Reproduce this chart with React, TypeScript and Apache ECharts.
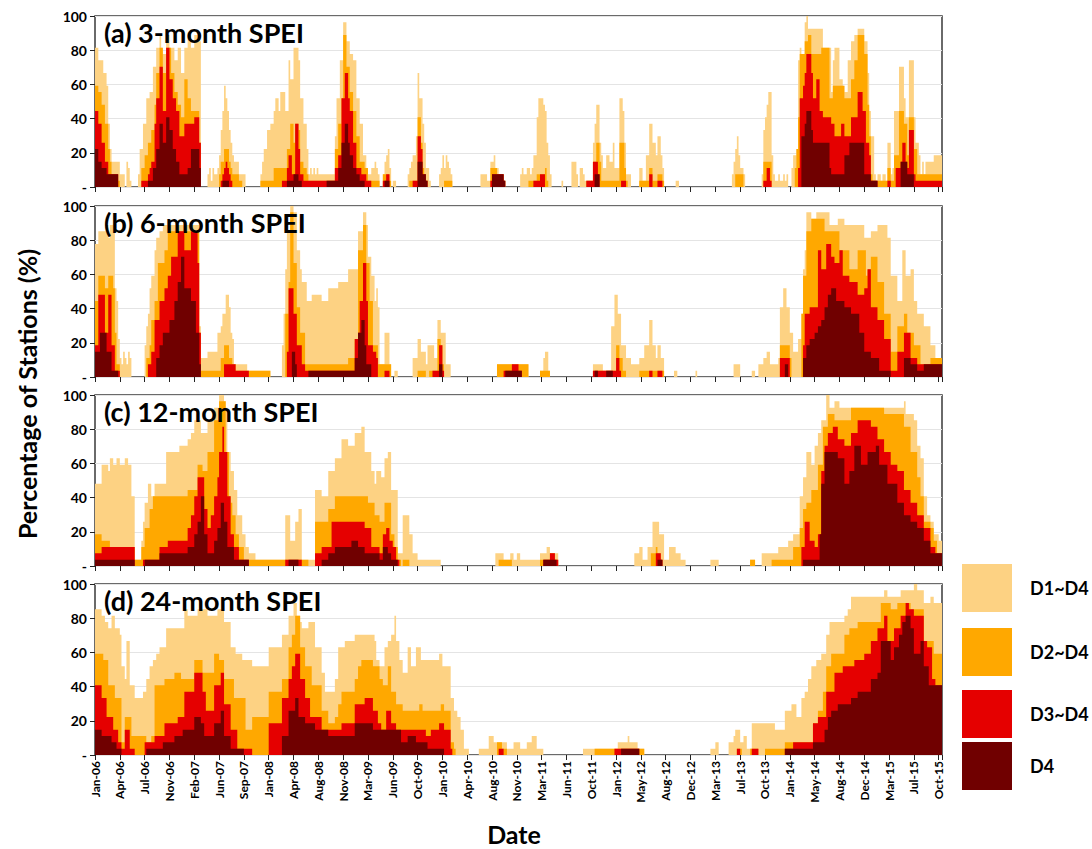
import React, { useEffect, useRef } from 'react';
import * as echarts from 'echarts';

const STATIONS = 27;
const WEEKS = 512;
const WEEKS_PER_TICK = 15;

const tickLabels = ['Jan-06','Apr-06','Jul-06','Nov-06','Feb-07','Jun-07','Sep-07','Jan-08','Apr-08','Aug-08','Nov-08','Mar-09','Jun-09','Oct-09','Jan-10','Apr-10','Aug-10','Nov-10','Mar-11','Jun-11','Oct-11','Jan-12','May-12','Aug-12','Dec-12','Mar-13','Jul-13','Oct-13','Jan-14','May-14','Aug-14','Dec-14','Mar-15','Jul-15','Oct-15'];
const panelTitles = ['(a) 3-month SPEI', '(b) 6-month SPEI', '(c) 12-month SPEI', '(d) 24-month SPEI'];
const classNames = ['D1~D4', 'D2~D4', 'D3~D4', 'D4'];
const classColors = ['#FDD283', '#FFA800', '#E50000', '#700000'];
const yTicks = [0, 20, 40, 60, 80, 100];

// Station counts (of 27) per week, written as "startWeek:count" change points.
// (a) 3-month SPEI
const a_D1 = "0:22 2:20 5:18 7:16 8:10 9:6 10:4 15:2 18:0 19:4 20:3 21:1 22:0 26:2 27:6 29:10 31:14 33:15 35:19 37:22 39:24 40:21 43:24 45:22 48:20 50:22 52:18 54:22 56:24 58:22 60:24 63:23 64:0 68:2 69:3 70:1 71:3 72:2 74:3 75:5 76:9 77:12 78:16 79:14 80:12 81:9 82:7 83:5 84:4 87:2 91:0 100:2 101:4 102:6 104:9 106:10 108:12 109:14 111:12 112:15 115:12 117:20 118:17 120:22 123:20 124:14 126:10 128:6 129:2 130:3 131:2 132:3 133:2 134:3 135:2 145:8 146:14 148:20 150:26 152:23 154:21 156:20 158:14 160:10 162:5 164:2 167:3 169:4 170:3 171:2 172:0 174:2 175:4 176:5 177:6 178:3 179:0 180:1 182:0 189:2 190:3 191:4 192:5 194:8 195:18 196:14 198:10 199:7 200:3 202:1 203:0 208:2 209:3 210:5 211:3 212:5 213:4 214:3 215:2 216:0 233:2 237:1 239:4 241:5 242:3 244:2 247:1 248:0 257:2 258:3 259:2 261:3 263:2 264:3 265:5 267:11 268:14 271:13 272:12 273:7 274:5 275:2 276:0 282:1 283:0 288:4 291:2 292:0 293:3 295:2 296:1 301:7 302:10 303:13 305:7 306:5 307:3 309:5 311:4 313:7 314:3 317:14 319:12 320:7 321:2 324:0 329:3 331:1 333:5 335:10 337:7 339:5 340:8 342:5 343:3 344:0 351:1 353:0 385:2 386:4 387:6 388:8 389:5 390:3 392:2 393:0 403:2 404:9 405:11 406:13 407:15 409:5 410:2 411:1 413:2 414:1 416:2 417:1 418:2 419:0 421:3 422:5 425:20 426:22 427:20 429:26 430:27 431:25 440:22 445:15 446:20 447:22 450:17 452:14 453:15 455:20 457:23 459:24 461:25 465:23 467:18 468:12 469:8 471:2 472:1 473:2 475:1 476:2 478:1 479:7 481:2 482:3 483:12 486:19 489:14 490:11 492:20 495:11 496:7 498:5 499:2 500:4 501:2 502:4 503:4 507:5";
const a_D2 = "0:16 2:15 4:13 6:10 8:6 9:4 10:2 14:1 15:0 28:3 30:5 32:7 34:9 36:13 37:18 39:22 41:18 44:22 46:18 48:15 50:13 52:11 54:17 56:14 58:12 63:6 64:0 75:2 76:4 78:6 81:4 82:3 83:2 87:1 89:0 100:1 108:3 116:6 118:10 120:7 122:9 124:4 126:3 128:2 129:1 145:6 147:10 149:14 150:24 152:19 154:15 156:12 158:8 160:4 163:3 165:1 172:0 174:2 178:1 179:0 190:1 195:11 197:7 198:3 199:1 201:0 211:1 216:0 239:3 243:1 248:0 262:1 267:2 272:3 273:1 274:0 297:1 301:3 303:7 305:4 306:1 317:7 320:3 321:1 322:0 329:1 335:3 337:1 340:2 343:1 344:0 387:2 392:0 404:4 409:0 423:3 424:6 425:11 426:21 429:23 431:24 433:21 439:22 444:14 446:16 453:14 457:17 459:20 461:24 465:21 467:13 468:8 469:2 470:1 479:3 481:1 483:5 486:12 489:10 491:5 492:11 495:6 497:2";
const a_D3 = "0:12 2:10 4:7 6:4 8:2 14:0 28:1 32:2 33:3 34:4 36:10 37:14 39:19 41:12 43:22 45:17 47:14 49:12 51:8 54:10 60:11 63:7 64:0 76:1 77:2 78:3 79:4 80:3 81:2 82:1 83:0 113:1 116:3 117:5 119:2 121:10 123:6 124:2 126:1 145:3 147:5 149:14 151:18 153:14 154:12 156:7 158:3 161:2 164:1 167:0 174:1 176:2 178:0 192:1 195:8 197:6 198:2 199:1 200:0 239:1 244:0 265:1 269:2 272:0 297:1 301:4 304:2 305:0 318:1 321:0 335:2 337:0 340:1 343:0 404:1 406:3 408:1 409:0 425:3 426:14 428:16 429:18 430:21 433:18 434:14 436:17 438:12 440:11 445:10 447:8 451:10 453:8 457:11 461:15 464:12 466:7 468:5 469:1 473:0 479:1 481:0 484:3 488:7 490:3 492:9 495:2 496:1";
const a_D4 = "0:6 2:4 4:3 7:2 14:0 32:1 35:3 37:6 39:10 41:7 43:11 45:9 47:6 49:4 51:2 56:3 58:6 63:3 64:0 77:1 81:0 116:1 120:2 123:1 125:0 140:1 147:3 149:7 151:10 153:7 154:5 156:3 158:2 160:1 163:0 175:1 178:0 195:4 198:2 200:1 201:0 240:2 247:1 248:0 302:2 305:0 427:8 429:10 430:12 433:9 434:7 444:3 445:2 453:5 456:7 465:2 469:1 473:0 487:4 491:2 495:0";

// (b) 6-month SPEI
const b_D1 = "0:21 2:23 7:24 8:22 9:24 11:23 12:14 13:12 14:6 15:3 16:2 17:4 18:3 19:2 20:4 21:3 22:0 30:5 31:8 32:10 33:14 34:16 36:20 37:22 39:23 41:24 63:8 64:3 68:4 74:7 76:8 77:10 79:13 81:11 82:7 83:6 84:2 92:1 106:0 113:5 114:10 115:17 116:23 118:27 120:26 122:20 124:17 125:15 128:12 131:13 137:12 141:14 147:15 153:17 159:23 162:26 164:24 165:19 167:16 169:12 170:14 171:11 172:2 174:0 175:7 178:2 179:0 181:1 183:0 192:3 195:6 197:4 200:2 201:5 205:3 207:9 209:7 212:2 215:0 243:2 254:1 258:0 269:1 271:3 272:4 274:1 275:0 301:2 307:1 312:8 314:13 316:10 318:5 321:3 324:2 329:3 332:5 335:9 337:5 339:3 340:5 342:3 344:0 350:1 352:0 363:1 364:0 386:2 390:0 397:1 399:0 401:2 404:3 406:4 408:2 413:3 414:11 416:14 418:11 420:7 422:4 425:6 428:17 429:20 430:26 433:25 436:26 444:24 449:25 453:24 465:22 469:23 473:24 479:22 481:16 485:12 488:20 490:16 493:17 495:12 497:10 501:8 505:5 508:3";
const b_D2 = "0:12 2:16 6:14 8:16 11:14 12:7 13:2 15:0 31:3 33:5 34:9 36:12 38:18 42:20 44:23 63:2 64:1 76:3 78:5 81:3 83:1 106:0 115:10 117:15 118:26 120:18 122:11 124:7 127:2 153:3 157:5 159:20 162:24 164:18 166:12 168:5 171:2 179:0 195:1 200:0 202:1 207:6 209:2 211:0 243:2 262:0 269:1 275:0 301:1 315:5 317:3 319:1 321:0 329:1 344:0 414:5 420:3 421:0 427:10 428:16 430:23 433:25 441:23 450:20 456:17 461:20 466:16 469:19 473:15 477:10 481:4 485:8 489:10 491:7 495:5 499:2 505:3";
const b_D3 = "0:5 2:13 6:7 8:13 10:5 12:1 15:0 32:2 34:4 36:9 39:12 42:14 44:16 46:19 50:23 54:20 58:23 62:18 63:7 64:0 78:2 85:1 93:0 116:4 117:14 120:10 122:5 125:2 127:1 157:6 160:12 162:18 164:12 165:5 168:4 170:3 171:0 175:1 178:0 204:1 208:5 210:1 211:0 247:1 252:2 256:1 258:0 301:1 315:3 317:1 318:0 335:1 337:0 340:1 343:0 414:3 420:0 428:5 429:10 432:11 437:20 439:17 442:21 445:19 447:18 450:20 452:16 456:15 461:13 465:14 467:17 469:11 473:9 477:6 481:1 485:4 489:7 493:3 497:2";
const b_D4 = "0:4 3:7 7:4 10:1 14:0 37:3 39:5 41:7 45:9 48:12 50:15 52:19 54:14 58:12 61:7 63:2 64:0 119:4 121:2 122:0 129:1 157:3 159:7 161:9 163:5 164:2 167:0 208:2 210:0 248:1 258:0 302:1 304:0 309:1 313:0 417:2 419:0 428:3 430:5 432:6 435:7 437:8 439:9 441:11 443:13 445:14 448:12 453:11 457:10 462:7 465:4 469:3 474:1 481:0 489:3 493:2 497:1 501:2";

// (c) 12-month SPEI
const c_D1 = "0:13 4:16 8:15 9:17 11:16 13:17 15:16 18:17 20:16 22:11 24:1 28:4 29:7 30:10 32:13 34:11 36:13 43:18 51:19 56:20 58:21 60:23 64:21 68:23 72:25 75:27 78:25 80:18 82:15 84:12 86:8 89:5 91:3 93:2 97:1 115:8 118:4 121:7 123:9 125:1 133:12 137:11 141:15 145:17 149:20 153:19 157:21 161:22 163:18 167:15 169:13 170:15 173:14 175:17 177:18 179:12 183:2 186:8 190:5 192:2 195:1 209:0 242:2 247:1 251:2 253:1 255:2 257:1 269:2 273:3 275:2 280:0 326:2 329:3 331:1 334:3 337:7 341:5 344:1 347:3 351:2 354:1 357:0 372:1 377:0 396:1 399:0 403:2 413:3 419:4 422:5 426:11 428:14 430:18 433:16 435:19 437:21 439:23 442:27 444:25 447:26 450:25 489:26 490:24 495:23 497:19 499:17 501:11 503:8 505:7 507:5 510:4";
const c_D2 = "0:5 4:4 9:3 23:1 28:3 30:6 33:9 35:11 56:12 62:16 65:15 68:18 72:23 75:26 79:18 81:10 83:8 85:5 87:3 90:1 129:0 133:7 141:9 145:11 165:10 169:8 172:7 175:10 179:5 181:3 183:1 185:0 186:1 190:0 244:1 252:0 269:1 280:0 336:2 339:3 340:1 343:0 396:1 399:0 409:1 422:3 426:6 428:9 430:10 433:12 437:16 440:22 443:24 447:23 457:25 477:24 489:22 493:18 497:14 499:11 501:7 505:6 507:4 509:2";
const c_D3 = "0:2 4:3 24:0 29:1 39:3 44:4 56:6 58:8 60:11 62:14 66:9 68:6 70:8 72:11 74:14 75:18 77:22 78:18 80:11 82:5 84:3 87:1 93:0 115:1 125:0 133:2 137:3 143:7 163:6 167:3 172:2 174:5 176:6 178:4 180:3 182:1 184:0 271:1 275:2 278:1 280:0 339:2 342:1 343:0 427:3 429:7 432:4 435:3 437:5 439:15 441:19 443:21 446:22 449:20 453:19 457:21 461:23 469:22 473:20 477:18 481:16 485:15 489:12 493:10 497:8 501:6 505:3 508:2";
const c_D4 = "0:1 24:0 30:1 39:2 56:3 60:5 62:7 64:11 66:5 68:2 72:4 74:6 76:10 78:7 80:3 84:1 93:0 117:1 123:0 137:1 141:2 145:3 155:4 159:3 163:2 172:1 174:3 177:2 179:1 183:0 271:1 279:0 340:1 343:0 428:1 438:5 439:13 441:18 449:17 453:13 456:15 459:19 463:16 467:18 472:19 474:16 479:13 485:10 489:8 493:7 497:6 501:4 505:2";

// (d) 24-month SPEI
const d_D1 = "0:23 4:22 6:21 8:20 10:22 12:20 15:19 16:14 18:12 19:18 21:11 24:9 29:10 31:12 33:14 35:15 37:16 39:17 43:20 54:23 56:22 62:23 68:22 74:23 78:21 82:17 85:16 89:15 95:14 105:17 113:19 117:22 120:24 122:21 125:20 129:21 133:17 137:13 139:10 145:12 147:17 151:18 157:19 169:18 170:15 172:14 175:17 177:18 179:19 181:22 182:18 184:15 186:13 189:17 191:14 194:17 197:15 208:16 210:14 215:9 217:7 219:6 221:4 223:1 226:0 232:1 238:3 241:2 249:1 253:2 257:1 261:2 264:3 267:1 271:0 295:1 316:2 322:3 323:2 328:1 332:0 372:1 375:2 377:0 383:2 386:3 387:4 390:2 392:3 394:1 397:5 411:4 417:7 421:8 424:6 427:9 429:10 431:12 433:14 436:15 439:16 442:19 444:21 453:22 455:23 457:25 477:26 479:25 487:26 495:27 497:26 501:24 505:25 507:24";
const d_D2 = "0:16 5:15 8:11 12:9 16:2 18:6 22:3 31:2 34:3 36:11 42:12 48:13 52:12 60:15 65:13 72:16 75:15 78:12 84:9 91:4 95:6 105:10 113:12 117:17 119:19 121:22 124:17 127:14 131:11 137:7 141:5 145:6 147:8 149:10 157:12 159:14 161:15 168:14 172:12 174:11 177:14 179:10 182:8 186:7 196:8 198:7 209:8 211:7 215:2 217:1 218:0 243:2 246:1 249:0 302:1 332:0 388:1 391:0 396:1 401:0 405:1 417:2 435:5 437:7 440:10 442:14 445:16 453:19 456:20 461:21 475:24 481:23 485:24 493:23 501:18 507:16";
const d_D3 = "0:11 4:9 7:6 11:4 14:2 16:1 18:4 21:1 24:0 30:2 36:3 42:5 50:6 54:10 60:13 65:10 67:7 72:11 76:13 78:8 82:4 86:1 95:0 105:5 113:9 117:12 119:14 121:16 124:12 127:9 130:6 137:4 149:5 157:8 163:9 168:7 171:5 173:4 176:7 179:5 182:4 200:3 203:4 208:5 211:4 215:1 216:0 244:1 247:0 314:1 318:0 388:1 390:0 397:1 401:0 422:2 434:5 437:6 442:10 447:13 452:14 459:15 465:16 469:18 473:20 477:22 479:18 483:20 487:22 490:24 492:23 495:22 501:18 503:17 506:12 508:11";
const d_D4 = "0:4 4:3 10:2 13:1 16:0 31:1 41:2 48:3 53:4 60:6 64:5 66:3 72:5 76:7 78:3 82:1 90:0 113:3 117:7 121:9 123:6 127:5 133:4 141:3 157:5 168:4 185:2 189:3 194:2 201:1 211:0 318:1 329:0 417:1 434:2 441:4 443:6 445:7 449:8 457:9 461:10 469:12 473:13 475:18 481:15 483:17 486:19 488:21 490:22 493:20 495:16 499:18 501:14 504:11";

const panels = [
  [a_D1, a_D2, a_D3, a_D4],
  [b_D1, b_D2, b_D3, b_D4],
  [c_D1, c_D2, c_D3, c_D4],
  [d_D1, d_D2, d_D3, d_D4],
];

function decode(s: string): number[] {
  const out = new Array(WEEKS).fill(0);
  const toks = s.trim().split(/\s+/).map((t) => t.split(':').map(Number));
  for (let i = 0; i < toks.length; i++) {
    const start = toks[i][0];
    const end = i + 1 < toks.length ? toks[i + 1][0] : WEEKS;
    for (let k = start; k < end && k < WEEKS; k++) out[k] = toks[i][1];
  }
  return out;
}

const FONT = 'Lato, "Open Sans", "Noto Sans", sans-serif';
const GRID_LEFT = 95;
const GRID_WIDTH = 847;
const GRID_HEIGHT = 171;
const GRID_TOPS = [16, 206, 395, 584];

function buildOption() {
  const grid: any[] = [];
  const xAxis: any[] = [];
  const yAxis: any[] = [];
  const series: any[] = [];
  const graphic: any[] = [];

  panels.forEach((p, gi) => {
    // nested classes: D4 <= D3~D4 <= D2~D4 <= D1~D4
    const raw = p.map(decode);
    const nested: number[][] = [raw[3]];
    for (let k = 2; k >= 0; k--) {
      nested.unshift(raw[k].map((v, i) => Math.max(v, nested[0][i])));
    }
    grid.push({
      left: GRID_LEFT, width: GRID_WIDTH, top: GRID_TOPS[gi], height: GRID_HEIGHT,
      show: true, borderColor: '#3a3a3a', borderWidth: 1.5, backgroundColor: 'transparent',
    });
    const isBottom = gi === panels.length - 1;
    xAxis.push({
      type: 'value', gridIndex: gi, min: 0, max: WEEKS, interval: WEEKS_PER_TICK,
      axisLine: { show: false },
      axisTick: { show: true, length: 5, inside: false, lineStyle: { color: '#222', width: 1 } },
      splitLine: { show: false },
      axisLabel: {
        show: isBottom, rotate: 90, fontSize: 12, fontWeight: 'bold', color: '#000', fontFamily: FONT, margin: 6,
        formatter: (v: number) => (v % WEEKS_PER_TICK === 0 && tickLabels[v / WEEKS_PER_TICK]) || '',
      },
    });
    yAxis.push({
      type: 'value', gridIndex: gi, min: 0, max: 100, interval: 20,
      axisLine: { show: false },
      axisTick: { show: true, length: 5, lineStyle: { color: '#222' } },
      splitLine: { show: true, lineStyle: { color: '#e4e4e4', width: 1 } },
      axisLabel: {
        fontSize: 14, fontWeight: 'bold', color: '#000', fontFamily: FONT, margin: 8,
        formatter: (v: number) => (yTicks.indexOf(v) >= 0 ? (v === 0 ? '-' : String(v)) : ''),
      },
    });
    nested.forEach((arr, k) => {
      const data: number[][] = arr.map((c, i) => [i, (c * 100) / STATIONS]);
      data.push([WEEKS, (arr[WEEKS - 1] * 100) / STATIONS]);
      series.push({
        type: 'line', name: classNames[k], xAxisIndex: gi, yAxisIndex: gi,
        step: 'end', symbol: 'none', silent: true, z: 2 + k,
        lineStyle: { width: 0, color: classColors[k] },
        itemStyle: { color: classColors[k] },
        areaStyle: { color: classColors[k], opacity: 1 },
        data,
      });
    });
    graphic.push({
      type: 'text', left: 104, top: GRID_TOPS[gi] + 3, z: 100,
      style: { text: panelTitles[gi], fontSize: 27, fontWeight: 'bold', fontFamily: FONT, fill: '#000' },
    });
  });

  graphic.push({
    type: 'text', x: 27, y: 394, rotation: Math.PI / 2,
    style: { text: 'Percentage of Stations (%)', fontSize: 25, fontWeight: 'bold', fontFamily: FONT, fill: '#000', align: 'center', verticalAlign: 'middle' },
  });
  graphic.push({
    type: 'text', x: 514, y: 834,
    style: { text: 'Date', fontSize: 25, fontWeight: 'bold', fontFamily: FONT, fill: '#000', align: 'center', verticalAlign: 'middle' },
  });
  const legendY = [588, 652, 714, 766];
  classNames.forEach((n, k) => {
    graphic.push({
      type: 'rect', shape: { x: 962, y: legendY[k] - 24, width: 50, height: 48 },
      style: { fill: classColors[k] },
    });
    graphic.push({
      type: 'text', x: 1030, y: legendY[k],
      style: { text: n, fontSize: 18, fontWeight: 'bold', fontFamily: FONT, fill: '#000', align: 'left', verticalAlign: 'middle' },
    });
  });

  return { animation: false, backgroundColor: '#fff', grid, xAxis, yAxis, series, graphic };
}

export default function App() {
  const ref = useRef<HTMLDivElement>(null);
  useEffect(() => {
    if (!ref.current) return;
    const chart = echarts.init(ref.current, undefined, { renderer: 'svg' });
    chart.setOption(buildOption() as any);
    return () => chart.dispose();
  }, []);
  return (
    <div
      ref={ref}
      style={{ position: 'absolute', left: 0, top: 0, width: 1092, height: 849, background: '#fff' }}
    />
  );
}
